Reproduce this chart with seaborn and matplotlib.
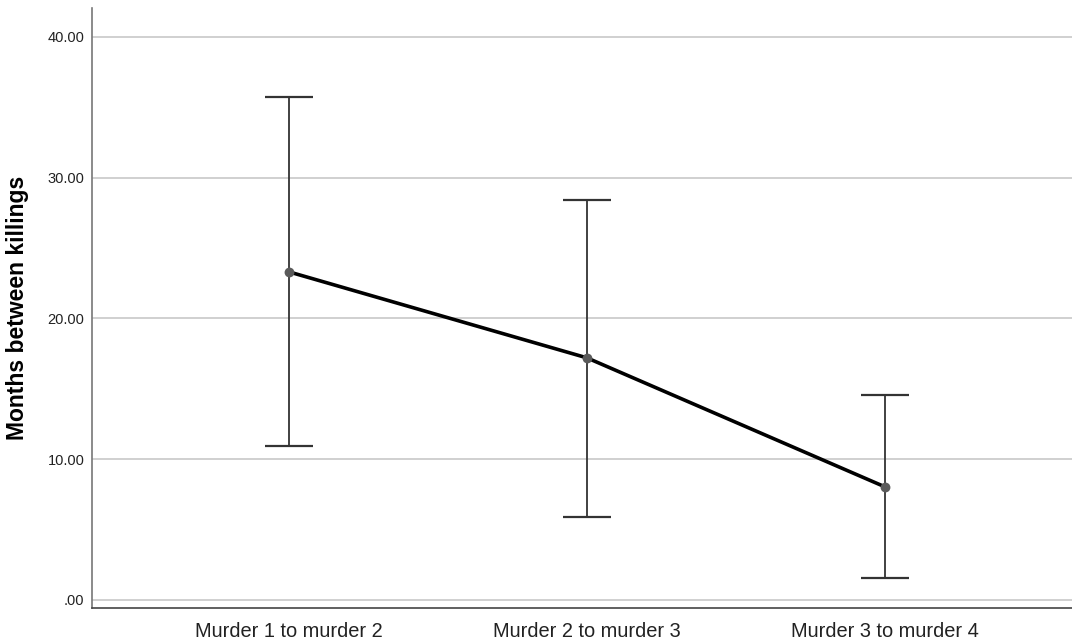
import matplotlib
matplotlib.use("Agg")
import matplotlib.pyplot as plt
import pandas as pd
import seaborn as sns

categories = ["Murder 1 to murder 2", "Murder 2 to murder 3", "Murder 3 to murder 4"]
means = [23.3, 17.2, 8.05]
upper = [35.72, 28.42, 14.56]
lower = [10.94, 5.90, 1.56]
y_ticks = [0, 10, 20, 30, 40]
y_tick_labels = [".00", "10.00", "20.00", "30.00", "40.00"]

sns.set_theme(style="white")
plt.rcParams["font.family"] = ["Liberation Sans", "DejaVu Sans"]

df = pd.DataFrame({"interval": categories, "months": means})

fig = plt.figure(figsize=(10.72, 6.43), dpi=100)
ax = fig.add_axes([0.0858, 0.0544, 0.9142, 0.9332])

ax.set_axisbelow(True)
ax.yaxis.grid(True, color="#c8c8c8", linewidth=1.2)
ax.xaxis.grid(False)

pos = list(range(len(categories)))
yerr = [[m - lo for m, lo in zip(means, lower)], [hi - m for m, hi in zip(means, upper)]]
ax.errorbar(pos, means, yerr=yerr, fmt="none", ecolor="#333333",
            elinewidth=1.3, capsize=17.5, capthick=1.6, zorder=2)

sns.lineplot(data=df, x="interval", y="months", color="black", linewidth=2.6,
             sort=False, ax=ax, zorder=3)
ax.scatter(pos, means, s=50, color="#5a5a5a", zorder=4, linewidths=0)

ax.set_xlim(-0.663, 2.63)
ax.set_ylim(-0.57, 42.05)
ax.set_yticks(y_ticks)
ax.set_yticklabels(y_tick_labels, fontsize=10.5, color="#222222")
ax.set_xticks(pos)
ax.set_xticklabels(categories, fontsize=14.4, color="#222222")
ax.tick_params(axis="y", length=0, pad=5.5)
ax.tick_params(axis="x", length=0, pad=10)

ax.set_xlabel("")
ax.set_ylabel("Months between killings", fontsize=16.5, fontweight="bold",
              labelpad=13, color="black")

for side in ["top", "right"]:
    ax.spines[side].set_visible(False)
ax.spines["left"].set_color("#777777")
ax.spines["bottom"].set_color("#444444")
ax.spines["left"].set_linewidth(1.2)
ax.spines["bottom"].set_linewidth(1.2)

fig.savefig("out.png", dpi=100)
